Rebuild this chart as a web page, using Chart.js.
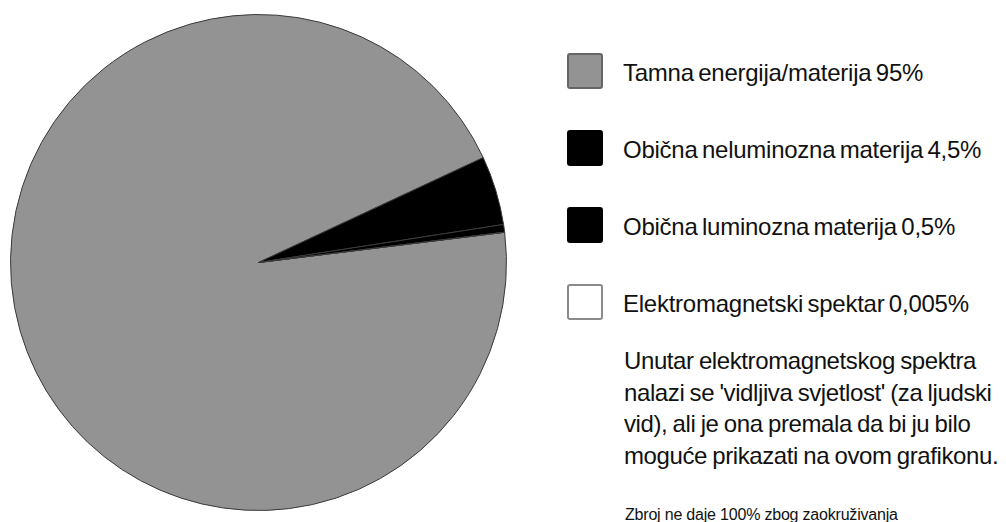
<!DOCTYPE html>
<html>
<head>
<meta charset="utf-8">
<script src="https://cdn.jsdelivr.net/npm/chart.js@4"></script>
<style>
  body { margin: 0; background: #fff; width: 1006px; height: 522px; overflow: hidden; position: relative;
         font-family: "Liberation Sans", Arial, sans-serif; color: #111; }
  #pieWrap { position: absolute; left: 10px; top: 13px; width: 497px; height: 499px; }
  #legend { position: absolute; left: 567px; top: 53px; }
  .item { display: flex; align-items: center; height: 36px; margin-bottom: 41px; }
  .box { width: 32px; height: 32px; border: 2px solid #555; border-radius: 3px; margin-right: 20px; flex: none; }
  .label { font-size: 24px; letter-spacing: -0.25px; word-spacing: -2px; white-space: nowrap; padding-top: 4px; }
  #note { position: absolute; left: 624px; top: 345px; font-size: 24px; line-height: 31.7px; letter-spacing: -0.4px; word-spacing: -1px; }
  #foot { position: absolute; left: 625px; top: 506px; font-size: 16px; letter-spacing: -0.2px; }
</style>
</head>
<body>
<div id="pieWrap"><canvas id="pie"></canvas></div>
<div id="legend"></div>
<div id="note">Unutar elektromagnetskog spektra<br>nalazi se 'vidljiva svjetlost' (za ljudski<br>vid), ali je ona premala da bi ju bilo<br>moguće prikazati na ovom grafikonu.</div>
<div id="foot">Zbroj ne daje 100% zbog zaokruživanja</div>
<script>
// Chart data
const labels = [
    'Tamna energija/materija 95%',
    'Obična neluminozna materija 4,5%',
    'Obična luminozna materija 0,5%',
    'Elektromagnetski spektar 0,005%'
];
const values = [95, 4.5, 0.5, 0.005];
const fillColors = ['#939393', '#000000', '#000000', '#ffffff'];
const boxBorders = ['#666666', '#000000', '#000000', '#8a8a8a'];

// Build legend
const legend = document.getElementById('legend');
legend.innerHTML = labels.map((label, i) => `
    <div class="item">
        <div class="box" style="background:${fillColors[i]};border-color:${boxBorders[i]}"></div>
        <div class="label">${label}</div>
    </div>
`).join('');

// Pie chart
new Chart(document.getElementById('pie').getContext('2d'), {
    type: 'pie',
    data: {
        labels: labels,
        datasets: [{
            data: values,
            backgroundColor: fillColors,
            borderColor: '#3a3a3a',
            borderWidth: 1
        }]
    },
    options: {
        responsive: true,
        maintainAspectRatio: false,
        animation: false,
        rotation: 83,
        layout: { padding: 0 },
        plugins: {
            legend: { display: false },
            tooltip: { enabled: false }
        }
    }
});
</script>
</body>
</html>
